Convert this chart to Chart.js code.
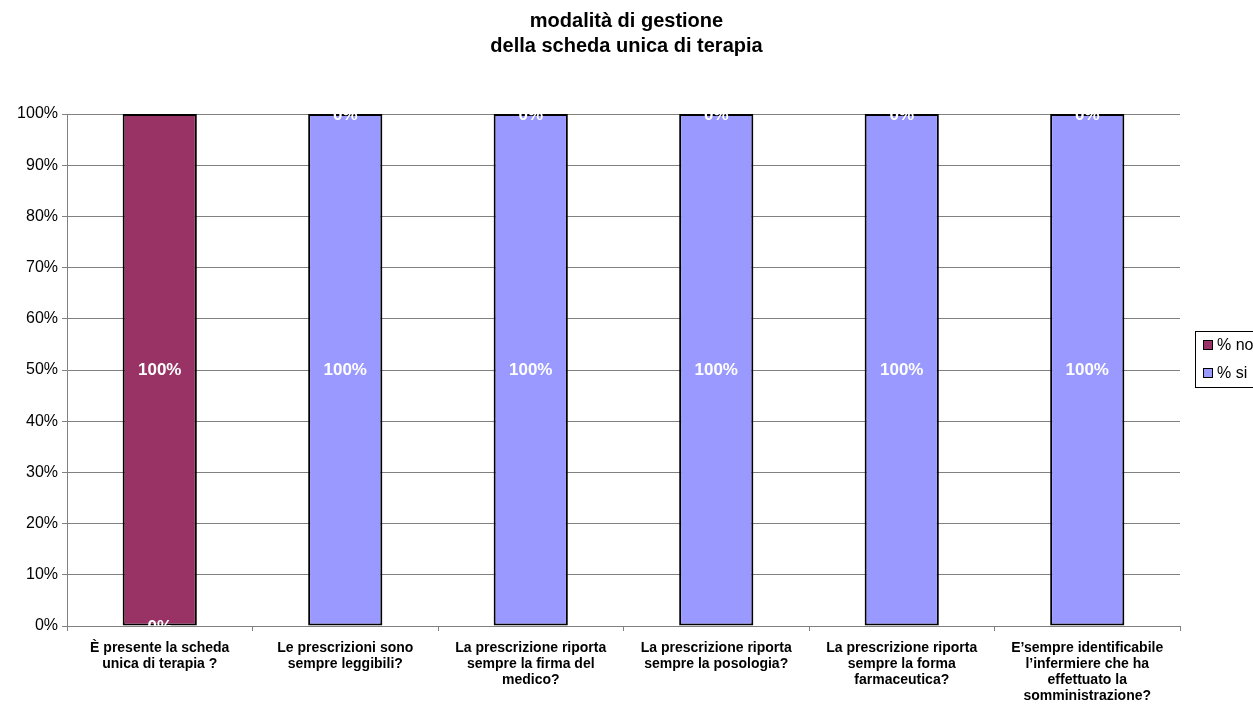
<!DOCTYPE html>
<html>
<head>
<meta charset="utf-8">
<script src="https://cdn.jsdelivr.net/npm/chart.js@4"></script>
<style>
html, body { margin: 0; padding: 0; background: #fff; }
#wrap { width: 1253px; height: 709px; }
</style>
</head>
<body>
<div id="wrap"><canvas id="barChartScheda"></canvas></div>
<script>
// dati
var categorie = [
  ["È presente la scheda", "unica di terapia ?"],
  ["Le prescrizioni sono", "sempre leggibili?"],
  ["La prescrizione riporta", "sempre la firma del", "medico?"],
  ["La prescrizione riporta", "sempre la posologia?"],
  ["La prescrizione riporta", "sempre la forma", "farmaceutica?"],
  ["E\u2019sempre identificabile", "l\u2019infermiere che ha", "effettuato la", "somministrazione?"]
];
var percSi = [0, 100, 100, 100, 100, 100];
var percNo = [100, 0, 0, 0, 0, 0];
var tickY = [0, 10, 20, 30, 40, 50, 60, 70, 80, 90, 100];

var FONT = 'Arial, "Liberation Sans", sans-serif';

// etichette dei valori dentro le barre
var etichette = {
  id: 'etichette',
  afterDatasetsDraw: function(chart) {
    var ctx = chart.ctx, area = chart.chartArea;
    ctx.save();
    ctx.beginPath();
    ctx.rect(area.left, area.top, area.right - area.left, area.bottom - area.top);
    ctx.clip();
    ctx.font = 'bold 17px ' + FONT;
    ctx.fillStyle = '#ffffff';
    ctx.textAlign = 'center';
    ctx.textBaseline = 'middle';
    chart.data.datasets.forEach(function(ds, i) {
      chart.getDatasetMeta(i).data.forEach(function(bar, j) {
        var y = (bar.y + bar.base) / 2;
        ctx.fillText(ds.data[j] + '%', bar.x, y + 1);
      });
    });
    ctx.restore();
  }
};

// legenda stile excel
var legenda = {
  id: 'legenda',
  afterDraw: function(chart) {
    var ctx = chart.ctx;
    var x = 1195, y = 331;
    ctx.save();
    ctx.strokeStyle = '#000';
    ctx.lineWidth = 1;
    ctx.strokeRect(x + 0.5, y + 0.5, 80, 56);
    ctx.font = '16px ' + FONT;
    ctx.textBaseline = 'middle';
    var ordine = chart.data.datasets.slice().reverse();
    ordine.forEach(function(ds, k) {
      var cy = y + 14 + k * 28;
      ctx.fillStyle = ds.backgroundColor;
      ctx.fillRect(x + 9, cy - 4, 8, 8);
      ctx.strokeStyle = '#000';
      ctx.strokeRect(x + 8.5, cy - 4.5, 9, 9);
      ctx.fillStyle = '#000';
      ctx.fillText(ds.label, x + 22, cy + 1);
    });
    ctx.restore();
  }
};

var ctxB = document.getElementById("barChartScheda").getContext('2d');
var myBarChart = new Chart(ctxB, {
  type: 'bar',
  data: {
    labels: categorie,
    datasets: [{
      label: "% si",
      data: percSi,
      backgroundColor: '#9999FF',
      borderColor: '#000000',
      borderWidth: 2,
      borderSkipped: false,
      barPercentage: 0.4,
      categoryPercentage: 1
    }, {
      label: "% no",
      data: percNo,
      backgroundColor: '#993366',
      borderColor: '#000000',
      borderWidth: 2,
      borderSkipped: false,
      barPercentage: 0.4,
      categoryPercentage: 1
    }]
  },
  options: {
    responsive: true,
    maintainAspectRatio: false,
    animation: false,
    layout: { padding: 0 },
    plugins: {
      legend: { display: false },
      tooltip: { enabled: false },
      title: {
        display: true,
        text: ["modalità di gestione", "della scheda unica di terapia"],
        color: '#000',
        font: { family: FONT, size: 20, weight: 'bold', lineHeight: 1.25 },
        padding: { top: 9, bottom: 55 }
      }
    },
    scales: {
      x: {
        stacked: true,
        afterFit: function(s) { s.height = 83; },
        border: { color: '#808080', width: 1 },
        grid: { offset: true, drawOnChartArea: false, color: '#808080', tickLength: 5 },
        ticks: {
          color: '#000',
          padding: 9,
          maxRotation: 0,
          autoSkip: false,
          font: { family: FONT, size: 14, weight: 'bold', lineHeight: 1.15 }
        }
      },
      y: {
        stacked: true,
        min: 0,
        max: 100,
        afterFit: function(s) { s.width = 67; },
        afterBuildTicks: function(s) { s.ticks = tickY.map(function(v) { return { value: v }; }); },
        border: { color: '#808080', width: 1 },
        grid: { color: '#808080', tickLength: 5 },
        ticks: {
          color: '#000',
          padding: 4,
          font: { family: FONT, size: 16 },
          callback: function(v) { return v + '%'; }
        }
      },
      // spazio a destra per la legenda
      yLegenda: {
        position: 'right',
        display: true,
        afterFit: function(s) { s.width = 73; },
        border: { display: false },
        grid: { display: false },
        ticks: { display: false }
      }
    }
  },
  plugins: [etichette, legenda]
});
</script>
</body>
</html>
